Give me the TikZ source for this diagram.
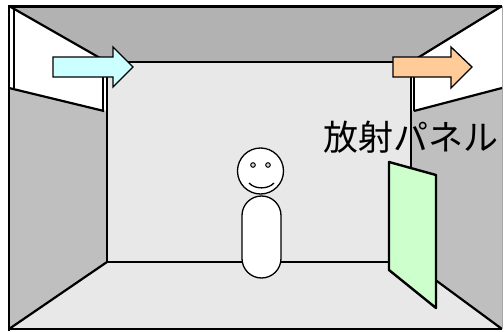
\documentclass[tikz,border=0pt]{standalone}
\usepackage{fontspec}
\newfontfamily\cjk{Noto Sans CJK JP}
\begin{document}
\begin{tikzpicture}[x=1pt,y=-1pt,
  edge/.style={line width=2.2pt,line join=round},
  thinedge/.style={line width=1.6pt},
  figure/.style={line width=1.3pt,fill=white},
  flow/.style={line width=1.3pt,line join=miter}]
\useasboundingbox (0,0) rectangle (504,332);
% room corners
\coordinate (otl) at (9,6);   \coordinate (otr) at (502,6);
\coordinate (obl) at (9,329); \coordinate (obr) at (502,329);
\coordinate (itl) at (107,62);  \coordinate (itr) at (411,62);
\coordinate (ibl) at (107,262); \coordinate (ibr) at (411,262);
% surfaces
\fill[gray!60] (otl) -- (otr) -- (itr) -- (itl) -- cycle;
\fill[gray!50] (otl) -- (itl) -- (ibl) -- (obl) -- cycle;
\fill[gray!50] (otr) -- (itr) -- (ibr) -- (obr) -- cycle;
\fill[gray!18] (itl) rectangle (ibr);
\fill[gray!18] (ibl) -- (ibr) -- (obr) -- (obl) -- cycle;
% wall openings
\coordinate (lwb) at (9,88);   \coordinate (lwi) at (107,111);
\coordinate (rwb) at (502,88); \coordinate (rwi) at (411,111);
\fill[white] (otl) -- (itl) -- (lwi) -- (lwb) -- cycle;
\fill[white] (otr) -- (itr) -- (rwi) -- (rwb) -- cycle;
% edges
\draw[edge] (otl) -- (itl) (otr) -- (itr) (obl) -- (ibl) (obr) -- (ibr);
\draw[line width=3pt] (7.5,6) -- (otr);
\draw[line width=2.4pt] (9,4.5) -- (9,330.5);
\draw[line width=2.4pt] (7.8,329) -- (obr);
\draw[gray!70,line width=0.8pt] (otr) -- (obr);
\draw[thinedge] (itl) rectangle (ibr);
% opening frames
\draw[edge] (lwb) -- (104,111);
\draw[edge] (414,111) -- (rwb);
\draw[line width=2pt] (14,6) -- (14,88);
\draw[line width=2pt] (103,60) -- (103,111);
\draw[line width=2pt] (414,60) -- (414,111);
% air flow arrows
\draw[flow,fill={rgb,255:red,204;green,255;blue,255}]
  (53,57) -- (113,57) -- (113,47) -- (133,67) -- (113,87) -- (113,77) -- (53,77) -- cycle;
\draw[flow,fill={rgb,255:red,255;green,204;blue,153}]
  (393,57) -- (451,57) -- (451,47) -- (472,67) -- (451,88) -- (451,77) -- (393,77) -- cycle;
% radiant panel
\draw[line width=2.4pt,line join=round,fill={rgb,255:red,204;green,255;blue,204}]
  (389,162) -- (436,175) -- (436,308) -- (389,270) -- cycle;
\node[font=\cjk\fontsize{35}{35}\selectfont,inner sep=0pt] (label) at (411,137) {放射パネル};
% person
\draw[figure,rounded corners=19.5pt] (242,196) rectangle (281,278);
\draw[figure] (260.5,171) circle (23);
\draw[line width=1pt,fill=gray!30] (253,165) circle (2.3) (268,165) circle (2.3);
\draw[line width=1.3pt] (249,183) .. controls (255,189.5) and (268,189.5) .. (274,183);
\end{tikzpicture}
\end{document}
